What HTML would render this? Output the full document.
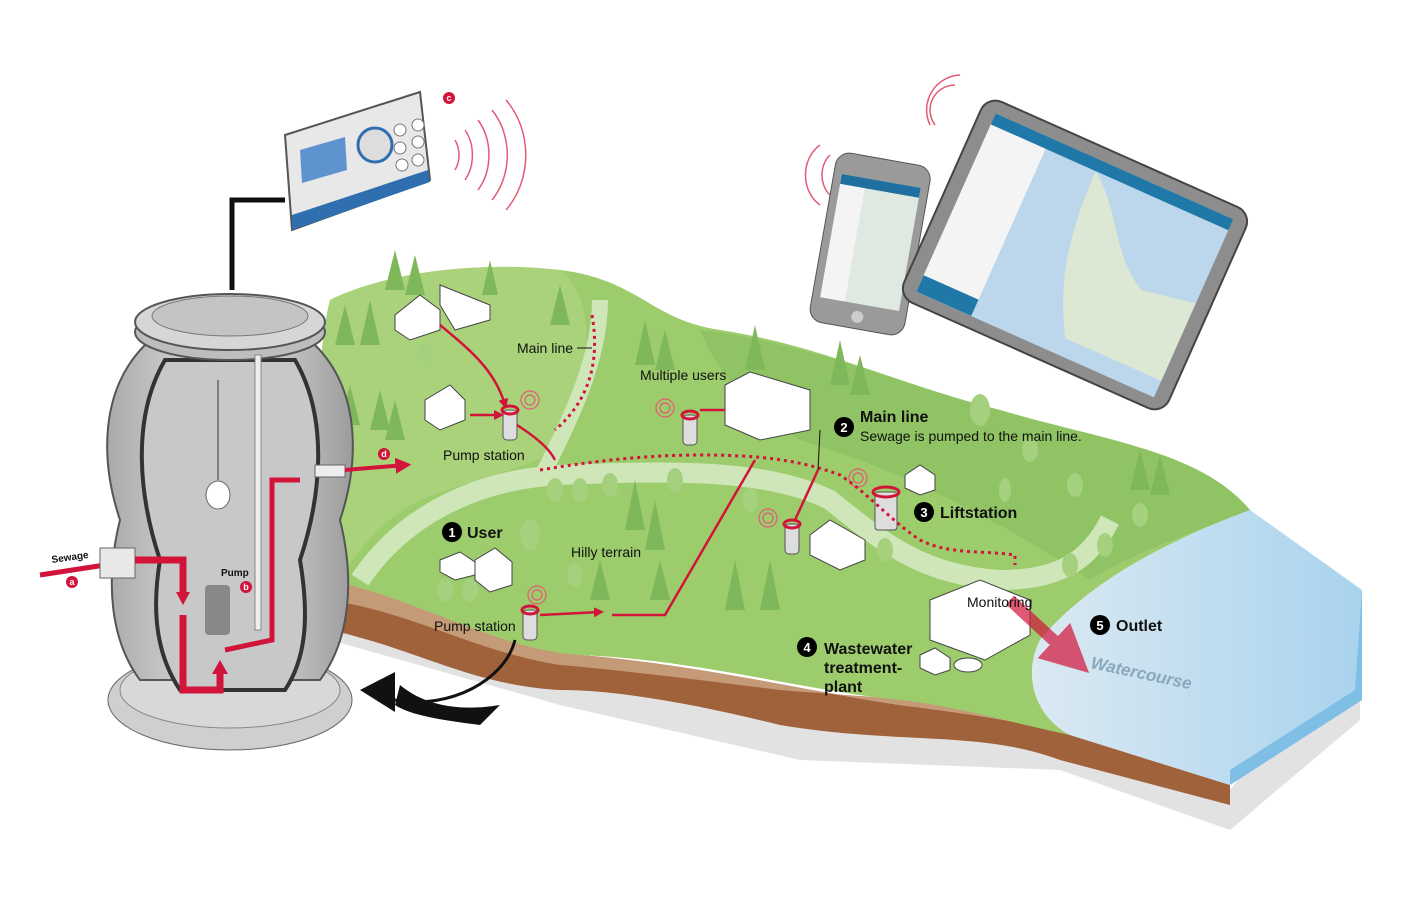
<!DOCTYPE html>
<html><head><meta charset="utf-8"><style>
html,body{margin:0;padding:0;background:#fff;}
svg{display:block;font-family:"Liberation Sans",sans-serif;}
</style></head><body>
<svg width="1417" height="907" viewBox="0 0 1417 907" xmlns="http://www.w3.org/2000/svg">
<defs>
<marker id="ar" viewBox="0 0 10 10" refX="6" refY="5" markerWidth="4" markerHeight="4" orient="auto"><path d="M0,0 L10,5 L0,10z" fill="#d2143a"/></marker>
<linearGradient id="tank" x1="0" x2="1"><stop offset="0" stop-color="#aaa"/><stop offset=".5" stop-color="#e4e4e4"/><stop offset="1" stop-color="#9c9c9c"/></linearGradient>
<linearGradient id="water" x1="0" x2="1"><stop offset="0" stop-color="#dbe9f2"/><stop offset="1" stop-color="#a9d3ee"/></linearGradient>
</defs>
<polygon points="330,640 560,705 800,760 1060,770 1230,830 1360,720 1360,620 1230,790 1050,740 800,720 560,680 330,620" fill="#e2e2e2"/>
<path d="M330,580 C420,600 500,650 580,655 C700,665 800,690 900,705 C980,715 1040,725 1070,735 L1230,785 L1230,805 L1060,760 C980,730 900,745 780,725 C700,705 620,690 560,690 C470,685 420,650 330,630 Z" fill="#a0623a"/>
<path d="M330,580 C420,600 500,650 580,655 C700,665 800,690 900,705 C980,715 1040,725 1070,735 L1230,785 L1230,770 L1060,722 C980,700 900,700 780,690 C700,680 620,670 560,665 C470,650 420,615 330,600 Z" fill="#c49a77"/>
<path d="M330,300 C380,275 470,260 560,270 C640,280 650,320 720,330 C820,345 900,385 1000,410 C1100,440 1200,450 1250,510 C1170,540 1090,580 1040,640 C1020,680 1040,720 1070,735 C1000,720 950,705 900,700 C800,690 700,660 580,655 C500,650 420,600 330,580 C315,480 315,360 330,300 Z" fill="#9ccc6c"/>
<path d="M330,300 C380,275 470,260 560,270 C600,300 590,380 560,450 C520,470 470,480 420,500 C380,520 350,560 340,580 L330,580 C315,480 315,360 330,300Z" fill="#a9d27b"/>
<path d="M700,330 C820,345 900,385 1000,410 C1100,440 1200,450 1250,510 C1170,540 1120,560 1090,580 C1000,520 900,470 800,440 C760,420 720,380 700,330Z" fill="#8fc363"/>
<path d="M360,580 C400,520 470,480 560,475 C680,470 770,470 830,500 C880,540 920,575 1000,580 C1060,580 1090,560 1110,520" fill="none" stroke="#cfe6b8" stroke-width="20"/>
<path d="M540,480 C570,420 600,360 600,300" fill="none" stroke="#cfe6b8" stroke-width="16"/>
<path d="M1250,510 L1362,590 L1362,700 L1230,785 L1070,735 C1040,720 1020,680 1040,640 C1090,580 1170,540 1250,510Z" fill="url(#water)"/>
<path d="M1362,590 L1362,700 L1230,785 L1230,770 L1355,690 Z" fill="#7fbfe6"/>
<g fill="#7fb85a">
<polygon points="395,250 385,290 405,290"/><polygon points="415,255 405,295 425,295"/><polygon points="490,260 482,295 498,295"/>
<polygon points="345,305 335,345 355,345"/><polygon points="370,300 360,345 380,345"/><polygon points="350,385 340,425 360,425"/><polygon points="380,390 370,430 390,430"/><polygon points="395,400 385,440 405,440"/>
<polygon points="560,285 550,325 570,325"/><polygon points="645,320 635,365 655,365"/><polygon points="665,330 655,370 675,370"/><polygon points="755,325 745,370 765,370"/>
<polygon points="840,340 830,385 850,385"/><polygon points="860,355 850,395 870,395"/><polygon points="1140,450 1130,490 1150,490"/><polygon points="1160,455 1150,495 1170,495"/>
<polygon points="635,480 625,530 645,530"/><polygon points="655,500 645,550 665,550"/><polygon points="735,560 725,610 745,610"/><polygon points="770,560 760,610 780,610"/>
<polygon points="660,560 650,600 670,600"/><polygon points="600,560 590,600 610,600"/>
</g>
<g fill="#a5d07e">
<ellipse cx="425" cy="355" rx="7" ry="12"/><ellipse cx="980" cy="410" rx="10" ry="16"/><ellipse cx="1030" cy="450" rx="8" ry="12"/><ellipse cx="1075" cy="485" rx="8" ry="12"/>
<ellipse cx="1105" cy="545" rx="8" ry="12"/><ellipse cx="1070" cy="565" rx="8" ry="12"/><ellipse cx="1140" cy="515" rx="8" ry="12"/>
<ellipse cx="555" cy="490" rx="8" ry="12"/><ellipse cx="580" cy="490" rx="8" ry="12"/><ellipse cx="610" cy="485" rx="8" ry="12"/><ellipse cx="675" cy="480" rx="8" ry="12"/>
<ellipse cx="530" cy="535" rx="10" ry="16"/><ellipse cx="445" cy="590" rx="8" ry="12"/><ellipse cx="470" cy="590" rx="8" ry="12"/>
<ellipse cx="575" cy="575" rx="8" ry="12"/><ellipse cx="885" cy="550" rx="8" ry="12"/><ellipse cx="750" cy="500" rx="8" ry="12"/><ellipse cx="1005" cy="490" rx="6" ry="12"/>
</g>
<g fill="#fff" stroke="#444" stroke-width="1">
<polygon points="395,315 420,295 440,310 440,330 410,340 395,330"/><polygon points="440,285 490,305 490,320 455,330 440,305"/>
<polygon points="425,400 450,385 465,400 465,420 440,430 425,420"/>
<polygon points="725,385 750,372 810,390 810,430 760,440 725,425"/>
<polygon points="905,475 920,465 935,475 935,490 920,495 905,488"/>
<polygon points="810,535 830,520 865,540 865,560 840,570 810,555"/>
<polygon points="440,560 460,552 475,562 475,575 455,580 440,572"/><polygon points="475,560 495,548 512,562 512,585 490,592 475,580"/>
<polygon points="930,600 980,580 1030,600 1030,635 985,660 930,640"/>
<polygon points="920,655 935,648 950,658 950,670 935,675 920,668"/><ellipse cx="968" cy="665" rx="14" ry="7"/>
</g>
<g fill="#ddd" stroke="#555"><rect x="503" y="410" width="14" height="30" rx="4"/><rect x="683" y="415" width="14" height="30" rx="4"/><rect x="785" y="524" width="14" height="30" rx="4"/><rect x="523" y="610" width="14" height="30" rx="4"/><rect x="875" y="492" width="22" height="38" rx="3"/></g>
<g fill="none" stroke="#d2143a" stroke-width="3"><ellipse cx="510" cy="410" rx="8" ry="4"/><ellipse cx="690" cy="415" rx="8" ry="4"/><ellipse cx="792" cy="524" rx="8" ry="4"/><ellipse cx="530" cy="610" rx="8" ry="4"/><ellipse cx="886" cy="492" rx="13" ry="5"/></g>
<g fill="none" stroke="#e45a74" stroke-width="1.2"><circle cx="530" cy="400" r="5"/><circle cx="530" cy="400" r="9"/><circle cx="665" cy="408" r="5"/><circle cx="665" cy="408" r="9"/><circle cx="768" cy="518" r="5"/><circle cx="768" cy="518" r="9"/><circle cx="858" cy="478" r="5"/><circle cx="858" cy="478" r="9"/><circle cx="537" cy="595" r="5"/><circle cx="537" cy="595" r="9"/></g>
<g fill="none" stroke="#d2143a" stroke-width="2.5">
<path d="M440,325 C470,350 495,370 505,405" marker-end="url(#ar)"/><path d="M470,415 L500,415" marker-end="url(#ar)"/>
<path d="M517,425 C540,440 550,450 555,460"/><path d="M700,410 L725,410"/>
<path d="M540,615 L600,612" marker-end="url(#ar)"/><path d="M612,615 L665,615 L755,460"/>
<path d="M795,520 L818,470"/>
<path d="M1010,600 L1075,660" stroke-width="12" stroke="#d2143a" opacity=".7" marker-end="url(#ar)"/>
</g>
<g fill="none" stroke="#d2143a" stroke-width="3" stroke-dasharray="3,4">
<path d="M592,315 C600,360 590,400 555,430"/>
<path d="M540,470 C600,460 650,455 700,455 C760,455 800,460 840,475 C870,495 890,520 920,540 C950,555 980,550 1015,555 L1015,565"/>
</g>
<!-- tank -->
<ellipse cx="230" cy="700" rx="122" ry="50" fill="#cfcfcf" stroke="#666"/>
<ellipse cx="230" cy="690" rx="110" ry="38" fill="#d8d8d8" stroke="#888"/>
<path d="M145,345 C100,390 100,460 120,520 C105,580 110,640 140,680 L320,680 C350,640 355,580 340,520 C360,460 360,390 315,345 Z" fill="url(#tank)" stroke="#555" stroke-width="2"/>
<path d="M165,360 C130,420 140,500 160,560 C150,620 160,660 180,690 L285,690 C305,660 310,620 300,560 C320,500 330,420 295,360Z" fill="#c8c8c8" stroke="#333" stroke-width="4"/>
<ellipse cx="230" cy="332" rx="95" ry="28" fill="#bdbdbd" stroke="#555" stroke-width="2"/>
<ellipse cx="230" cy="322" rx="95" ry="28" fill="#d6d6d6" stroke="#555" stroke-width="2"/>
<ellipse cx="230" cy="316" rx="78" ry="20" fill="#c4c4c4" stroke="#777"/>
<rect x="205" y="585" width="25" height="50" rx="4" fill="#888"/><rect x="255" y="355" width="6" height="275" fill="#eee" stroke="#888"/>
<ellipse cx="218" cy="495" rx="12" ry="14" fill="#fff" stroke="#666"/><path d="M218,480 L218,380" stroke="#333"/>
<path d="M40,575 L105,565" stroke="#d2143a" stroke-width="5"/>
<rect x="100" y="548" width="35" height="30" fill="#e8e8e8" stroke="#666"/>
<path d="M135,560 L183,560 L183,598" stroke="#d2143a" stroke-width="7" fill="none"/><polygon points="176,592 190,592 183,605" fill="#d2143a"/>
<path d="M183,615 L183,690 L220,690 L220,670" stroke="#d2143a" stroke-width="7" fill="none"/><polygon points="212,674 228,674 220,660" fill="#d2143a"/>
<path d="M225,650 L272,640 L272,480 L300,480" stroke="#d2143a" stroke-width="5" fill="none"/>
<rect x="315" y="465" width="30" height="12" fill="#eee" stroke="#666"/>
<path d="M345,470 L405,465" stroke="#d2143a" stroke-width="4" marker-end="url(#ar)"/>
<path d="M232,290 L232,200 L285,200" stroke="#111" stroke-width="5" fill="none"/>
<path d="M515,640 C505,680 450,710 395,700" stroke="#111" stroke-width="3" fill="none"/>
<path d="M400,685 C430,710 470,710 500,705 L480,725 C440,720 410,715 395,705Z" fill="#111"/><polygon points="360,690 395,672 395,712" fill="#111"/>
<!-- controller -->
<polygon points="285,135 420,92 430,180 292,230" fill="#e8e8e8" stroke="#555" stroke-width="2"/>
<polygon points="292,215 428,170 430,182 292,230" fill="#2f6fb0"/>
<polygon points="300,150 345,137 347,170 302,183" fill="#5f93cf"/>
<circle cx="375" cy="145" r="17" fill="#ddd" stroke="#2f6fb0" stroke-width="3"/>
<g fill="#fff" stroke="#777"><circle cx="400" cy="130" r="6"/><circle cx="418" cy="125" r="6"/><circle cx="400" cy="148" r="6"/><circle cx="418" cy="142" r="6"/><circle cx="402" cy="165" r="6"/><circle cx="418" cy="160" r="6"/></g>
<g fill="none" stroke="#e45a74" stroke-width="1.5"><path d="M455,140 a20,25 0 0,1 0,30"/><path d="M465,130 a30,38 0 0,1 0,50"/><path d="M478,120 a42,52 0 0,1 0,70"/><path d="M492,110 a55,65 0 0,1 0,90"/><path d="M506,100 a68,78 0 0,1 0,110"/>
<path d="M830,155 a20,25 0 0,0 0,40"/><path d="M820,145 a30,35 0 0,0 0,60"/><path d="M955,85 a25,25 0 0,0 -20,40"/><path d="M960,75 a35,35 0 0,0 -30,50"/></g>
<!-- phone -->
<g transform="rotate(10 870 245)"><rect x="822" y="158" width="96" height="172" rx="14" fill="#9a9a9a" stroke="#555"/><rect x="830" y="180" width="80" height="125" fill="#dfe9e2"/><rect x="830" y="180" width="80" height="10" fill="#1f6fa0"/><rect x="830" y="190" width="25" height="115" fill="#f4f4f4"/><circle cx="870" cy="318" r="6" fill="#ccc"/></g>
<!-- tablet -->
<g transform="rotate(24 1075 255)"><rect x="930" y="145" width="290" height="220" rx="16" fill="#8d8d8d" stroke="#444" stroke-width="2"/><rect x="945" y="158" width="260" height="195" fill="#bcd7ec"/><rect x="945" y="158" width="260" height="12" fill="#1f78a8"/><rect x="945" y="170" width="60" height="183" fill="#f4f4f4"/><rect x="945" y="335" width="60" height="18" fill="#1f78a8"/><path d="M1060,170 C1100,200 1110,240 1150,260 L1205,250 L1205,335 L1100,335 C1080,300 1060,260 1060,170Z" fill="#dce8d4"/></g>
<g fill="#d2143a"><circle cx="449" cy="98" r="6"/><circle cx="72" cy="582" r="6"/><circle cx="246" cy="587" r="6"/><circle cx="384" cy="454" r="6"/></g>
<g fill="#fff" font-size="9" font-weight="bold" text-anchor="middle"><text x="449" y="101">c</text><text x="72" y="585">a</text><text x="246" y="590">b</text><text x="384" y="457">d</text></g>
<g fill="#000"><circle cx="452" cy="532" r="10"/><circle cx="844" cy="427" r="10"/><circle cx="924" cy="512" r="10"/><circle cx="807" cy="647" r="10"/><circle cx="1100" cy="625" r="10"/></g>
<g fill="#fff" font-size="13" font-weight="bold" text-anchor="middle"><text x="452" y="537">1</text><text x="844" y="432">2</text><text x="924" y="517">3</text><text x="807" y="652">4</text><text x="1100" y="630">5</text></g>
<g font-size="16" font-weight="bold" fill="#111"><text x="467" y="538">User</text><text x="860" y="422">Main line</text><text x="940" y="518">Liftstation</text><text x="824" y="654">Wastewater</text><text x="824" y="673">treatment-</text><text x="824" y="692">plant</text><text x="1116" y="631">Outlet</text></g>
<g font-size="14" fill="#111"><text x="860" y="441">Sewage is pumped to the main line.</text><text x="517" y="353">Main line</text><text x="443" y="460">Pump station</text><text x="640" y="380">Multiple users</text><text x="571" y="557">Hilly terrain</text><text x="434" y="631">Pump station</text><text x="967" y="607">Monitoring</text></g>
<path d="M577,348 L592,348 M820,430 L818,470" stroke="#111"/>
<g font-size="10" font-weight="bold" fill="#111"><text x="52" y="563" transform="rotate(-8 52 563)">Sewage</text><text x="221" y="576">Pump</text></g>
<text x="1090" y="668" font-size="17" font-style="italic" font-weight="bold" fill="#8aa7bd" transform="rotate(12 1090 668)">Watercourse</text>
</svg>
</body></html>
